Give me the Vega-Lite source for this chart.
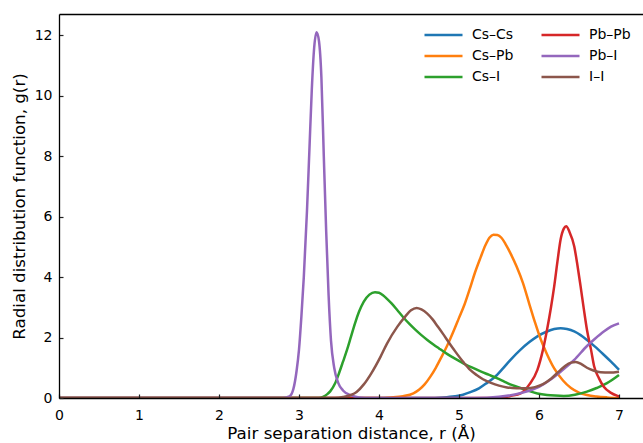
{
  "$schema": "https://vega.github.io/schema/vega-lite/v6.json",
  "autosize": "none",
  "width": 584,
  "height": 384,
  "padding": {"left": 59, "top": 14, "right": 0, "bottom": 45},
  "background": "white",
  "config": {
    "view": {"stroke": null},
    "font": "DejaVu Sans",
    "axis": {
      "labelFont": "DejaVu Sans", "labelFontSize": 14, "labelColor": "#000",
      "titleFont": "DejaVu Sans", "titleFontSize": 16.7, "titleFontWeight": "normal", "titleColor": "#000",
      "domainColor": "#000", "domainWidth": 1.3, "tickColor": "#222", "tickWidth": 1.2,
      "grid": false
    },
    "legend": {
      "labelFont": "DejaVu Sans", "labelFontSize": 14, "labelColor": "#000"
    }
  },
  "data": {"values": [
    {"pair":"Cs–Cs","r":0,"g":0},{"pair":"Cs–Cs","r":4.6,"g":0},{"pair":"Cs–Cs","r":4.8,"g":0.02},{"pair":"Cs–Cs","r":4.95,"g":0.06},{"pair":"Cs–Cs","r":5.05,"g":0.11},{"pair":"Cs–Cs","r":5.15,"g":0.2},{"pair":"Cs–Cs","r":5.25,"g":0.32},{"pair":"Cs–Cs","r":5.35,"g":0.5},{"pair":"Cs–Cs","r":5.45,"g":0.7},{"pair":"Cs–Cs","r":5.55,"g":0.98},{"pair":"Cs–Cs","r":5.65,"g":1.28},{"pair":"Cs–Cs","r":5.77,"g":1.6},{"pair":"Cs–Cs","r":5.88,"g":1.85},{"pair":"Cs–Cs","r":5.98,"g":2.04},{"pair":"Cs–Cs","r":6.1,"g":2.2},{"pair":"Cs–Cs","r":6.19,"g":2.28},{"pair":"Cs–Cs","r":6.27,"g":2.31},{"pair":"Cs–Cs","r":6.35,"g":2.28},{"pair":"Cs–Cs","r":6.44,"g":2.2},{"pair":"Cs–Cs","r":6.52,"g":2.08},{"pair":"Cs–Cs","r":6.6,"g":1.92},{"pair":"Cs–Cs","r":6.7,"g":1.7},{"pair":"Cs–Cs","r":6.81,"g":1.43},{"pair":"Cs–Cs","r":6.9,"g":1.2},{"pair":"Cs–Cs","r":7.0,"g":0.93},
    {"pair":"Cs–Pb","r":0,"g":0},{"pair":"Cs–Pb","r":4.0,"g":0},{"pair":"Cs–Pb","r":4.15,"g":0.02},{"pair":"Cs–Pb","r":4.3,"g":0.06},{"pair":"Cs–Pb","r":4.43,"g":0.15},{"pair":"Cs–Pb","r":4.5,"g":0.27},{"pair":"Cs–Pb","r":4.57,"g":0.45},{"pair":"Cs–Pb","r":4.64,"g":0.7},{"pair":"Cs–Pb","r":4.71,"g":1.0},{"pair":"Cs–Pb","r":4.78,"g":1.35},{"pair":"Cs–Pb","r":4.85,"g":1.72},{"pair":"Cs–Pb","r":4.93,"g":2.2},{"pair":"Cs–Pb","r":5.0,"g":2.65},{"pair":"Cs–Pb","r":5.07,"g":3.1},{"pair":"Cs–Pb","r":5.14,"g":3.65},{"pair":"Cs–Pb","r":5.2,"g":4.15},{"pair":"Cs–Pb","r":5.27,"g":4.65},{"pair":"Cs–Pb","r":5.33,"g":5.05},{"pair":"Cs–Pb","r":5.38,"g":5.3},{"pair":"Cs–Pb","r":5.43,"g":5.4},{"pair":"Cs–Pb","r":5.48,"g":5.39},{"pair":"Cs–Pb","r":5.53,"g":5.3},{"pair":"Cs–Pb","r":5.58,"g":5.1},{"pair":"Cs–Pb","r":5.65,"g":4.75},{"pair":"Cs–Pb","r":5.72,"g":4.35},{"pair":"Cs–Pb","r":5.8,"g":3.8},{"pair":"Cs–Pb","r":5.88,"g":3.1},{"pair":"Cs–Pb","r":5.95,"g":2.5},{"pair":"Cs–Pb","r":6.02,"g":1.95},{"pair":"Cs–Pb","r":6.1,"g":1.45},{"pair":"Cs–Pb","r":6.19,"g":0.98},{"pair":"Cs–Pb","r":6.3,"g":0.58},{"pair":"Cs–Pb","r":6.4,"g":0.33},{"pair":"Cs–Pb","r":6.5,"g":0.18},{"pair":"Cs–Pb","r":6.6,"g":0.1},{"pair":"Cs–Pb","r":6.72,"g":0.05},{"pair":"Cs–Pb","r":6.85,"g":0.02},{"pair":"Cs–Pb","r":7.0,"g":0},
    {"pair":"Cs–I","r":0,"g":0},{"pair":"Cs–I","r":3.25,"g":0},{"pair":"Cs–I","r":3.3,"g":0.04},{"pair":"Cs–I","r":3.35,"g":0.12},{"pair":"Cs–I","r":3.39,"g":0.22},{"pair":"Cs–I","r":3.45,"g":0.48},{"pair":"Cs–I","r":3.5,"g":0.82},{"pair":"Cs–I","r":3.55,"g":1.2},{"pair":"Cs–I","r":3.6,"g":1.59},{"pair":"Cs–I","r":3.65,"g":2.03},{"pair":"Cs–I","r":3.7,"g":2.47},{"pair":"Cs–I","r":3.75,"g":2.85},{"pair":"Cs–I","r":3.81,"g":3.19},{"pair":"Cs–I","r":3.88,"g":3.42},{"pair":"Cs–I","r":3.95,"g":3.5},{"pair":"Cs–I","r":4.0,"g":3.48},{"pair":"Cs–I","r":4.05,"g":3.4},{"pair":"Cs–I","r":4.1,"g":3.28},{"pair":"Cs–I","r":4.16,"g":3.12},{"pair":"Cs–I","r":4.23,"g":2.9},{"pair":"Cs–I","r":4.3,"g":2.68},{"pair":"Cs–I","r":4.38,"g":2.45},{"pair":"Cs–I","r":4.45,"g":2.27},{"pair":"Cs–I","r":4.53,"g":2.08},{"pair":"Cs–I","r":4.6,"g":1.93},{"pair":"Cs–I","r":4.68,"g":1.77},{"pair":"Cs–I","r":4.75,"g":1.64},{"pair":"Cs–I","r":4.85,"g":1.46},{"pair":"Cs–I","r":4.95,"g":1.3},{"pair":"Cs–I","r":5.06,"g":1.14},{"pair":"Cs–I","r":5.16,"g":1.01},{"pair":"Cs–I","r":5.27,"g":0.88},{"pair":"Cs–I","r":5.37,"g":0.77},{"pair":"Cs–I","r":5.48,"g":0.65},{"pair":"Cs–I","r":5.56,"g":0.55},{"pair":"Cs–I","r":5.64,"g":0.45},{"pair":"Cs–I","r":5.75,"g":0.35},{"pair":"Cs–I","r":5.85,"g":0.25},{"pair":"Cs–I","r":5.98,"g":0.15},{"pair":"Cs–I","r":6.1,"g":0.1},{"pair":"Cs–I","r":6.2,"g":0.08},{"pair":"Cs–I","r":6.31,"g":0.07},{"pair":"Cs–I","r":6.45,"g":0.11},{"pair":"Cs–I","r":6.6,"g":0.21},{"pair":"Cs–I","r":6.72,"g":0.33},{"pair":"Cs–I","r":6.85,"g":0.49},{"pair":"Cs–I","r":7.0,"g":0.76},
    {"pair":"Pb–Pb","r":0,"g":0},{"pair":"Pb–Pb","r":5.4,"g":0},{"pair":"Pb–Pb","r":5.55,"g":0.02},{"pair":"Pb–Pb","r":5.65,"g":0.07},{"pair":"Pb–Pb","r":5.77,"g":0.15},{"pair":"Pb–Pb","r":5.88,"g":0.45},{"pair":"Pb–Pb","r":5.98,"g":0.93},{"pair":"Pb–Pb","r":6.05,"g":1.6},{"pair":"Pb–Pb","r":6.1,"g":2.25},{"pair":"Pb–Pb","r":6.15,"g":3.0},{"pair":"Pb–Pb","r":6.19,"g":3.69},{"pair":"Pb–Pb","r":6.23,"g":4.5},{"pair":"Pb–Pb","r":6.27,"g":5.24},{"pair":"Pb–Pb","r":6.31,"g":5.6},{"pair":"Pb–Pb","r":6.34,"g":5.68},{"pair":"Pb–Pb","r":6.38,"g":5.5},{"pair":"Pb–Pb","r":6.44,"g":5.02},{"pair":"Pb–Pb","r":6.48,"g":4.4},{"pair":"Pb–Pb","r":6.52,"g":3.69},{"pair":"Pb–Pb","r":6.56,"g":2.95},{"pair":"Pb–Pb","r":6.6,"g":2.25},{"pair":"Pb–Pb","r":6.65,"g":1.6},{"pair":"Pb–Pb","r":6.69,"g":1.04},{"pair":"Pb–Pb","r":6.75,"g":0.65},{"pair":"Pb–Pb","r":6.81,"g":0.37},{"pair":"Pb–Pb","r":6.9,"g":0.17},{"pair":"Pb–Pb","r":6.98,"g":0.07},{"pair":"Pb–Pb","r":7.0,"g":0.05},
    {"pair":"Pb–I","r":0,"g":0},{"pair":"Pb–I","r":2.8,"g":0},{"pair":"Pb–I","r":2.88,"g":0.05},{"pair":"Pb–I","r":2.93,"g":0.3},{"pair":"Pb–I","r":2.97,"g":0.9},{"pair":"Pb–I","r":3.0,"g":1.6},{"pair":"Pb–I","r":3.03,"g":2.7},{"pair":"Pb–I","r":3.06,"g":4.0},{"pair":"Pb–I","r":3.1,"g":6.2},{"pair":"Pb–I","r":3.13,"g":8.2},{"pair":"Pb–I","r":3.16,"g":10.2},{"pair":"Pb–I","r":3.19,"g":11.6},{"pair":"Pb–I","r":3.22,"g":12.1},{"pair":"Pb–I","r":3.25,"g":11.8},{"pair":"Pb–I","r":3.28,"g":10.6},{"pair":"Pb–I","r":3.31,"g":8.0},{"pair":"Pb–I","r":3.34,"g":5.5},{"pair":"Pb–I","r":3.37,"g":3.4},{"pair":"Pb–I","r":3.4,"g":1.9},{"pair":"Pb–I","r":3.44,"g":1.0},{"pair":"Pb–I","r":3.49,"g":0.5},{"pair":"Pb–I","r":3.55,"g":0.25},{"pair":"Pb–I","r":3.64,"g":0.1},{"pair":"Pb–I","r":3.75,"g":0.02},{"pair":"Pb–I","r":3.9,"g":0},{"pair":"Pb–I","r":5.2,"g":0},{"pair":"Pb–I","r":5.5,"g":0.04},{"pair":"Pb–I","r":5.8,"g":0.18},{"pair":"Pb–I","r":6.0,"g":0.37},{"pair":"Pb–I","r":6.15,"g":0.62},{"pair":"Pb–I","r":6.27,"g":0.87},{"pair":"Pb–I","r":6.44,"g":1.26},{"pair":"Pb–I","r":6.6,"g":1.72},{"pair":"Pb–I","r":6.7,"g":1.96},{"pair":"Pb–I","r":6.81,"g":2.2},{"pair":"Pb–I","r":6.9,"g":2.36},{"pair":"Pb–I","r":7.0,"g":2.47},
    {"pair":"I–I","r":0,"g":0},{"pair":"I–I","r":3.45,"g":0},{"pair":"I–I","r":3.55,"g":0.03},{"pair":"I–I","r":3.65,"g":0.1},{"pair":"I–I","r":3.72,"g":0.2},{"pair":"I–I","r":3.81,"g":0.45},{"pair":"I–I","r":3.9,"g":0.8},{"pair":"I–I","r":4.02,"g":1.37},{"pair":"I–I","r":4.1,"g":1.8},{"pair":"I–I","r":4.23,"g":2.36},{"pair":"I–I","r":4.33,"g":2.7},{"pair":"I–I","r":4.4,"g":2.9},{"pair":"I–I","r":4.47,"g":2.98},{"pair":"I–I","r":4.53,"g":2.93},{"pair":"I–I","r":4.6,"g":2.8},{"pair":"I–I","r":4.67,"g":2.6},{"pair":"I–I","r":4.73,"g":2.38},{"pair":"I–I","r":4.8,"g":2.12},{"pair":"I–I","r":4.87,"g":1.85},{"pair":"I–I","r":4.95,"g":1.55},{"pair":"I–I","r":5.06,"g":1.17},{"pair":"I–I","r":5.14,"g":0.93},{"pair":"I–I","r":5.22,"g":0.76},{"pair":"I–I","r":5.3,"g":0.62},{"pair":"I–I","r":5.4,"g":0.5},{"pair":"I–I","r":5.5,"g":0.41},{"pair":"I–I","r":5.6,"g":0.35},{"pair":"I–I","r":5.72,"g":0.32},{"pair":"I–I","r":5.85,"g":0.32},{"pair":"I–I","r":5.95,"g":0.36},{"pair":"I–I","r":6.05,"g":0.46},{"pair":"I–I","r":6.15,"g":0.64},{"pair":"I–I","r":6.25,"g":0.88},{"pair":"I–I","r":6.33,"g":1.07},{"pair":"I–I","r":6.4,"g":1.17},{"pair":"I–I","r":6.46,"g":1.19},{"pair":"I–I","r":6.53,"g":1.12},{"pair":"I–I","r":6.6,"g":1.0},{"pair":"I–I","r":6.68,"g":0.91},{"pair":"I–I","r":6.77,"g":0.85},{"pair":"I–I","r":6.88,"g":0.84},{"pair":"I–I","r":7.0,"g":0.87}
  ]},
  "resolve": {"axis": {"x": "independent", "y": "independent"}},
  "layer": [
    {
      "mark": {"type": "line", "strokeWidth": 2.5, "interpolate": "monotone", "clip": true},
      "encoding": {
        "x": {"field": "r", "type": "quantitative",
              "scale": {"domain": [0, 7.3], "nice": false, "zero": false},
              "axis": {"title": "Pair separation distance, r (Å)", "values": [0,1,2,3,4,5,6,7], "format": "d", "labelPadding": 10, "titlePadding": 3, "labelFlush": false,
                       "ticks": true, "tickSize": 4, "offset": -4, "domain": false, "zindex": 1}},
        "y": {"field": "g", "type": "quantitative",
              "scale": {"domain": [0, 12.7], "nice": false},
              "axis": {"title": "Radial distribution function, g(r)", "values": [0,2,4,6,8,10,12], "format": "d", "labelPadding": 7, "titlePadding": 6, "labelFlush": false,
                       "ticks": true, "tickSize": 4, "offset": -4, "domain": false, "zindex": 1}},
        "color": {"field": "pair", "type": "nominal",
                  "scale": {"domain": ["Cs–Cs","Cs–Pb","Cs–I","Pb–Pb","Pb–I","I–I"],
                            "range": ["#1f77b4","#ff7f0e","#2ca02c","#d62728","#9467bd","#8c564b"]},
                  "legend": {"title": null, "orient": "none", "legendX": 364, "legendY": 13, "columns": 2,
                             "symbolType": "stroke", "symbolSize": 1444, "symbolStrokeWidth": 2.5,
                             "clipHeight": 16, "rowPadding": 5, "columnPadding": 26, "labelOffset": 8}},
        "order": {"field": "r", "type": "quantitative"}
      }
    },
    {
      "mark": {"type": "rule", "opacity": 0},
      "encoding": {
        "x": {"field": "r", "type": "quantitative",
              "axis": {"orient": "top", "title": null, "labels": false, "ticks": false, "domain": true, "zindex": 1}}
      }
    },
    {
      "mark": {"type": "rule", "opacity": 0},
      "encoding": {
        "x": {"field": "r", "type": "quantitative",
              "axis": {"orient": "bottom", "title": null, "labels": false, "ticks": false, "domain": true, "zindex": 1}},
        "y": {"field": "g", "type": "quantitative",
              "axis": {"orient": "left", "title": null, "labels": false, "ticks": false, "domain": true, "zindex": 1}}
      }
    }
  ]
}
